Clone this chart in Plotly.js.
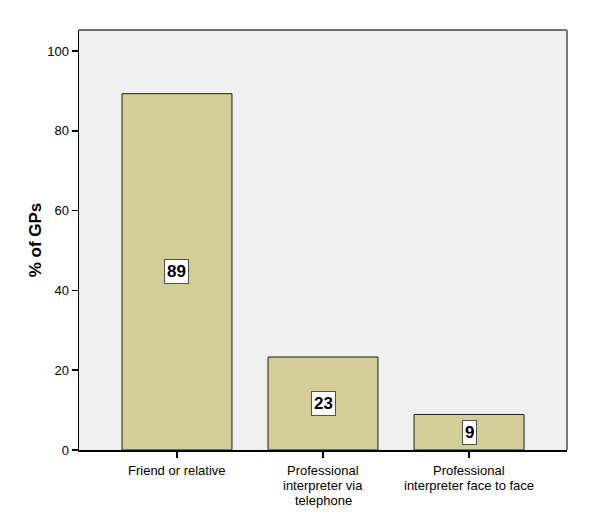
<!DOCTYPE html>
<html>
<head>
<meta charset="utf-8">
<script src="https://cdn.plot.ly/plotly-3.0.1.min.js"></script>
<style>body{margin:0;background:#fff}</style>
</head>
<body>
<div id="myDiv" style="width:600px;height:525px"></div>
<script>
var categories = [
    ['Friend or relative'],
    ['Professional', 'interpreter via', 'telephone'],
    ['Professional', 'interpreter face to face']
];
var percentValues = [89.3, 23.3, 8.9];
var valueLabels = ['89', '23', '9'];
var yTicks = [0, 20, 40, 60, 80, 100];

var trace1 = {
    x: [0, 1, 2],
    y: percentValues,
    type: 'bar',
    width: 0.753,
    marker: { color: 'rgb(211, 206, 152)', line: { color: 'rgb(30, 30, 30)', width: 1 } },
    hoverinfo: 'none'
};

// value boxes in the middle of each bar
var annotations = percentValues.map(function (v, i) {
    return {
        x: i, y: v / 2, xref: 'x', yref: 'y',
        text: '<b>' + valueLabels[i] + '</b>',
        showarrow: false,
        font: { family: 'Arial, Liberation Sans', size: 17, color: '#000' },
        bgcolor: '#ffffff',
        bordercolor: 'rgb(80, 80, 80)',
        borderwidth: 1,
        borderpad: 2
    };
});

// category labels, one line each so the line spacing stays tight
categories.forEach(function (lines, i) {
    lines.forEach(function (line, k) {
        annotations.push({
            x: i, y: 0, xref: 'x', yref: 'paper',
            text: line,
            showarrow: false,
            yanchor: 'middle',
            borderpad: 0,
            yshift: -(20 + k * 15),
            font: { family: 'Arial, Liberation Sans', size: 13, color: '#000' }
        });
    });
});

var layout = {
    width: 600,
    height: 525,
    margin: { l: 79, r: 33, t: 30, b: 75 },
    paper_bgcolor: '#ffffff',
    plot_bgcolor: 'rgb(240, 240, 240)',
    showlegend: false,
    font: { family: 'Arial, Liberation Sans', size: 13, color: '#000' },
    xaxis: {
        range: [-0.671, 2.671],
        tickvals: [0, 1, 2],
        ticktext: ['', '', ''],
        ticks: 'outside',
        ticklen: 6,
        tickwidth: 1.5,
        tickcolor: '#000',
        showgrid: false,
        zeroline: false,
        showline: true,
        linecolor: '#000',
        linewidth: 1.5
    },
    yaxis: {
        range: [0, 105.26],
        tickvals: yTicks,
        ticks: 'outside',
        ticklen: 6,
        tickwidth: 1.5,
        tickcolor: '#000',
        showgrid: false,
        zeroline: false,
        showline: true,
        linecolor: '#000',
        linewidth: 1.5,
        tickfont: { size: 13 },
        title: { text: '<b>% of GPs</b>', font: { size: 17 }, standoff: 1 }
    },
    shapes: [
        { type: 'line', xref: 'paper', yref: 'paper', x0: 0, x1: 1, y0: 1, y1: 1, line: { color: 'rgb(70, 70, 70)', width: 1.5 } },
        { type: 'line', xref: 'paper', yref: 'paper', x0: 1, x1: 1, y0: 0, y1: 1, line: { color: 'rgb(120, 120, 120)', width: 2 } }
    ],
    annotations: annotations
};

Plotly.newPlot('myDiv', [trace1], layout, { displayModeBar: false, staticPlot: true });
</script>
</body>
</html>
